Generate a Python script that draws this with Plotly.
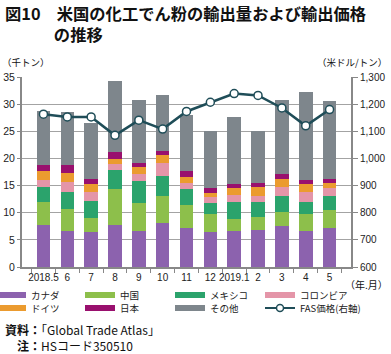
import plotly.graph_objects as go

months = ["2018.5", "6", "7", "8", "9", "10", "11", "12", "2019.1", "2", "3", "4", "5"]
# thousand tons by exporting destination
canada  = [7.7, 6.65, 6.5, 7.7, 6.65, 8.1, 7.15, 6.4, 6.65, 6.9, 7.5, 6.6, 7.1]
china   = [4.2, 4.05, 2.6, 6.7, 5.05, 5.0, 4.25, 3.3, 2.15, 2.3, 2.7, 3.1, 3.4]
mexico  = [2.8, 3.2, 3.1, 3.5, 4.2, 3.7, 2.9, 2.0, 3.2, 2.8, 2.9, 2.3, 2.6]
colombia = [1.3, 1.7, 1.7, 1.1, 1.2, 2.3, 1.1, 1.2, 1.25, 1.1, 1.6, 1.9, 1.4]
germany = [1.6, 1.7, 1.3, 0.9, 1.4, 1.5, 1.1, 0.8, 1.25, 1.6, 1.45, 1.3, 1.0]
japan   = [1.2, 1.4, 1.0, 1.2, 0.7, 0.8, 1.2, 0.9, 0.8, 0.8, 0.95, 0.8, 0.8]
others  = [10.0, 9.8, 10.3, 13.2, 11.6, 10.2, 10.3, 10.5, 12.3, 9.5, 13.6, 16.2, 14.2]
fas_price = [1163, 1153, 1153, 1085, 1141, 1108, 1173, 1207, 1239, 1232, 1186, 1120, 1180]

series = [
    ("カナダ", canada, "#8c62ae"),
    ("中国", china, "#8dbf4b"),
    ("メキシコ", mexico, "#2ba36c"),
    ("コロンビア", colombia, "#e495a8"),
    ("ドイツ", germany, "#eb9b2f"),
    ("日本", japan, "#99106e"),
    ("その他", others, "#7e868c"),
]
line_name = "FAS価格(右軸)"
line_color = "#1f4d58"

FONT = "Liberation Sans, Noto Sans CJK JP, sans-serif"
JFONT = "Noto Sans CJK JP, sans-serif"

ML, MR, MT, MB = 22, 40, 77, 87
W, H = 391, 354
PW = W - ML - MR
PH = H - MT - MB


def px_x(x):
    return (x - ML) / PW


def px_y(y):
    return (H - MB - y) / PH


fig = go.Figure()
for name, vals, col in series:
    fig.add_trace(go.Bar(x=months, y=vals, name=name, marker=dict(color=col, line=dict(width=0)),
                         showlegend=False))

fig.add_trace(go.Scatter(x=months, y=fas_price, yaxis="y2", mode="lines+markers",
                         line=dict(color=line_color, width=2.5),
                         marker=dict(size=8, color="white", line=dict(color=line_color, width=1.5)),
                         showlegend=False))

# legend: one legend box per entry, laid out in a 4x2 grid
col_x = [-9, 80, 170, 260]
row_y = [295, 308]
legend_layout = {}
for i, (name, vals, col) in enumerate(series):
    key = "legend" if i == 0 else f"legend{i + 1}"
    fig.add_trace(go.Scatter(x=[None], y=[None], mode="lines", name=name,
                             line=dict(color=col, width=6), legend=key))
    legend_layout[key] = (col_x[i % 4], row_y[i // 4])
fig.add_trace(go.Scatter(x=[None], y=[None], mode="lines+markers", name=line_name,
                         line=dict(color=line_color, width=2),
                         marker=dict(size=7, color="white", line=dict(color=line_color, width=1.5)),
                         legend="legend8"))
legend_layout["legend8"] = (col_x[3], row_y[1])

legend_common = dict(orientation="v", xanchor="left", yanchor="middle", itemwidth=30,
                     font=dict(family=JFONT, size=9.5, color="#222"),
                     bgcolor="rgba(0,0,0,0)", borderwidth=0,
                     itemclick=False, itemdoubleclick=False)
for key, (lx, ly) in legend_layout.items():
    fig.update_layout({key: dict(x=px_x(lx), y=px_y(ly), **legend_common)})

fig.update_layout(
    width=W, height=H,
    margin=dict(l=ML, r=MR, t=MT, b=MB, autoexpand=False),
    paper_bgcolor="white", plot_bgcolor="white",
    barmode="stack", bargap=0.43,
    font=dict(family=FONT, size=10, color="#222"),
    xaxis=dict(type="category", tickson="boundaries", ticks="outside", ticklen=4,
               tickcolor="#888", showline=True, linecolor="#888", linewidth=2,
               showgrid=False, tickangle=0, tickfont=dict(size=10)),
    yaxis=dict(range=[0, 35], dtick=5, showline=True, linecolor="#888", linewidth=2,
               showgrid=True, gridcolor="#a3a3a3", gridwidth=1.2, zeroline=False,
               ticks="outside", ticklen=3, tickcolor="#888", tickfont=dict(size=10.5)),
    yaxis2=dict(range=[600, 1300], dtick=100, overlaying="y", side="right",
                showline=True, linecolor="#888", linewidth=2, showgrid=False,
                ticks="outside", ticklen=5, tickcolor="#888", tickformat=",",
                tickfont=dict(size=10), zeroline=False),
)

ann = [
    dict(text="<b>図10　米国の化工でん粉の輸出量および輸出価格<br>　　　の推移</b>", x=3, y=23, size=16.3),
    dict(text="（千トン）", x=0, y=62, size=9.5),
    dict(text="<b>資料：</b>「Global Trade Atlas」", x=3, y=329, size=12),
    dict(text="<b>注：</b>HSコード350510", x=15, y=345, size=12),
]
annotations = []
for a in ann:
    annotations.append(dict(text=a["text"], xref="paper", yref="paper",
                            x=px_x(a["x"]), y=px_y(a["y"]),
                            xanchor="left", yanchor="middle", align="left", showarrow=False,
                            font=dict(family=JFONT, size=a["size"], color="#111")))
annotations.append(dict(text="（米ドル/トン）", xref="paper", yref="paper",
                        x=px_x(389), y=px_y(62), xanchor="right", yanchor="middle",
                        showarrow=False, font=dict(family=JFONT, size=9.5, color="#111")))
annotations.append(dict(text="（年.月）", xref="paper", yref="paper",
                        x=px_x(390), y=px_y(284), xanchor="right", yanchor="middle",
                        showarrow=False, font=dict(family=JFONT, size=10, color="#111")))
fig.update_layout(annotations=annotations)

fig.write_html("out.html")
